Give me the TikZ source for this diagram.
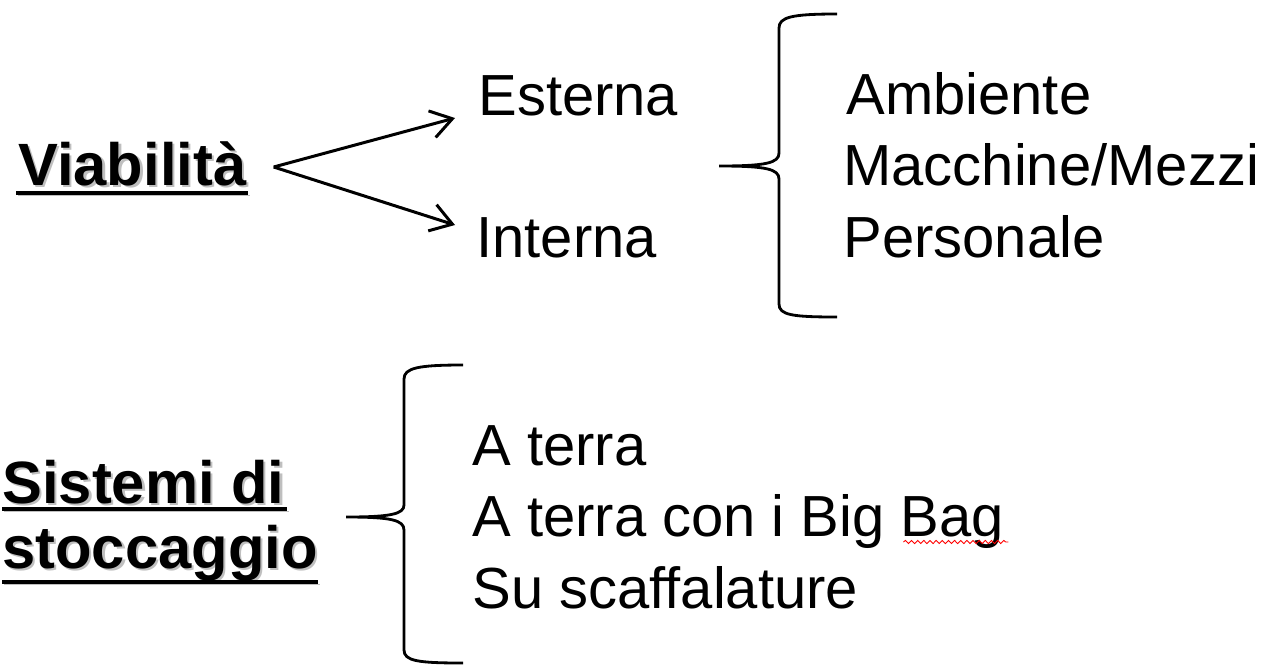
\documentclass[tikz,border=0pt]{standalone}
\usepackage{fontspec}
\setmainfont{Liberation Sans}
\usetikzlibrary{arrows.meta,calc,decorations.pathmorphing}

\newcommand{\shtext}[1]{\rlap{\kern1.3pt\raisebox{-1.3pt}{\color{black!25}#1}}#1}

\tikzset{every node/.style={inner sep=0pt, anchor=base west, font=\fontsize{33}{40}\selectfont}}

\begin{document}
\begin{tikzpicture}[x=0.02cm, y=-0.02cm,
		title/.style={font=\fontsize{34}{40}\selectfont\bfseries},
		uline/.style={line width=2.2pt, preaction={draw=black!25, transform canvas={shift={(1.3pt,-1.3pt)}}}},
		arr/.style={line width=1.7pt, -{Straight Barb[length=0.42cm,width=0.55cm]}},
		brace/.style={line width=1.6pt}]
		\useasboundingbox (0,0) rectangle (1270,667);
		
		% Draw the titles
		\node[title] (viab) at (18,185) {\shtext{Viabilità}};
		\node[title] (sist) at (2,503) {\shtext{Sistemi di}};
		\node[title] (stoc) at (2,568) {\shtext{stoccaggio}};
		\draw[uline] ($(viab.base west)+(-2,8)$) -- ($(viab.base east)+(1,8)$);
		\draw[uline] ($(sist.base west)+(0,6)$) -- ($(sist.base east)+(2,6)$);
		\draw[uline] ($(stoc.base west)+(0,14)$) -- ($(stoc.base east)+(0,14)$);
		
		% Draw the first group
		\node (est) at (478,115) {Esterna};
		\node (int) at (476,257) {Interna};
		\draw[arr] ($(viab.base east)+(27,-18)$) -- ($(est.base west)+(-23,3)$);
		\draw[arr] ($(viab.base east)+(27,-18)$) -- ($(int.base west)+(-21,-32)$);
		
		\node (amb) at (846,114) {Ambiente};
		\node (mac) at (843,185) {Macchine/Mezzi};
		\node (pers) at (843,257) {Personale};
		
		% Draw the braces
		\draw[brace] (837,14) .. controls (792,14) and (779,17) .. (779,28) -- (779,153)
			.. controls (779,163) and (766,166) .. (719,166)
			.. controls (766,166) and (779,169) .. (779,179) -- (779,304)
			.. controls (779,315) and (792,317) .. (837,317);
		\draw[brace] (463,365) .. controls (418,365) and (404,368) .. (404,379) -- (404,505)
			.. controls (404,514) and (391,517) .. (346,517)
			.. controls (391,517) and (404,520) .. (404,530) -- (404,650)
			.. controls (404,661) and (418,663) .. (463,663);
		
		% Draw the second group
		\node (terra) at (472,465) {A terra};
		\node (bigbag) at (472,536) {A terra con i Big Bag};
		\node (scaff) at (472,608) {Su scaffalature};
		\draw[red, line width=0.5pt, decorate, decoration={snake, amplitude=0.9pt, segment length=3.5pt}]
			($(bigbag.base east)+(-101,6)$) -- ($(bigbag.base east)+(4,6)$);
		
	\end{tikzpicture}
\end{document}
